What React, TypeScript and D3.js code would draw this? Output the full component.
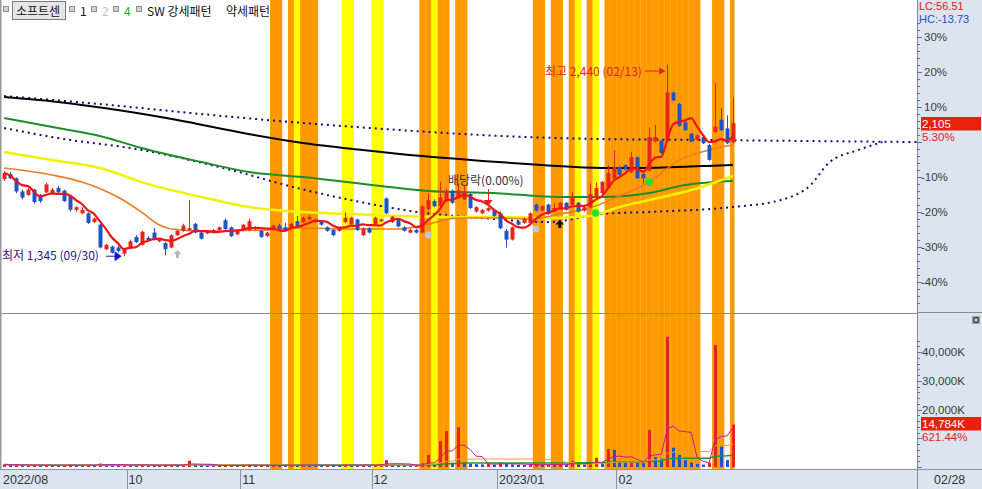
import React from "react";
import * as d3 from "d3";

const BASE = 1999;

const opens = [1785,1815,1790,1715,1695,1725,1695,1710,1700,1735,1720,1690,1610,1590,1590,1540,1525,1385,1400,1395,1360,1395,1455,1410,1450,1480,1430,1420,1395,1465,1490,1495,1530,1480,1475,1480,1495,1550,1510,1470,1495,1495,1500,1490,1460,1495,1520,1510,1505,1545,1540,1555,1540,1545,1510,1495,1490,1540,1525,1555,1465,1505,1525,1545,1675,1540,1555,1510,1480,1495,1480,1615,1660,1630,1660,1720,1680,1670,1700,1600,1590,1605,1610,1590,1490,1440,1545,1535,1535,1640,1605,1640,1600,1620,1650,1640,1650,1605,1625,1680,1705,1735,1790,1855,1865,1825,1910,1815,1835,2000,2005,2010,2280,2215,2110,2045,2010,2025,1980,2055,2125,2075,1995];
const highs = [1830,1825,1795,1725,1735,1730,1700,1765,1735,1745,1725,1695,1630,1625,1595,1565,1530,1415,1405,1405,1390,1440,1465,1490,1460,1505,1445,1425,1470,1495,1530,1665,1535,1485,1495,1500,1515,1560,1515,1500,1530,1560,1515,1495,1485,1525,1530,1535,1535,1575,1570,1580,1560,1550,1515,1500,1510,1595,1570,1560,1510,1510,1570,1560,1680,1575,1560,1515,1500,1500,1640,1700,1670,1770,1730,1725,1760,1750,1705,1630,1615,1625,1615,1600,1500,1515,1550,1565,1595,1645,1635,1645,1650,1655,1655,1710,1655,1630,1760,1765,1775,1865,1950,1860,1870,1940,1915,1820,2080,2095,2010,2440,2285,2220,2115,2050,2040,2030,1985,2335,2190,2150,2255];
const lows = [1775,1785,1705,1670,1690,1645,1650,1705,1695,1705,1655,1600,1600,1585,1530,1535,1390,1380,1360,1365,1345,1390,1420,1405,1430,1435,1425,1350,1390,1460,1485,1490,1475,1440,1470,1475,1490,1495,1455,1465,1490,1490,1495,1450,1455,1490,1495,1490,1500,1510,1535,1550,1535,1520,1485,1460,1485,1535,1520,1490,1460,1475,1520,1540,1585,1535,1510,1485,1475,1475,1475,1605,1625,1625,1655,1645,1675,1665,1615,1595,1585,1600,1570,1500,1395,1435,1520,1530,1530,1600,1600,1580,1595,1615,1605,1635,1595,1600,1620,1675,1700,1730,1785,1805,1835,1820,1785,1760,1830,1995,1930,2000,2230,2085,2060,1995,2005,1985,1890,2050,2060,1985,1990];
const closes = [1820,1790,1715,1680,1725,1655,1660,1755,1725,1710,1660,1610,1625,1610,1535,1560,1395,1410,1365,1375,1385,1430,1425,1485,1435,1440,1440,1385,1465,1490,1520,1505,1480,1445,1490,1495,1510,1500,1460,1495,1525,1545,1510,1455,1480,1520,1500,1495,1530,1515,1565,1570,1555,1525,1490,1465,1505,1565,1565,1495,1505,1480,1565,1555,1590,1570,1515,1490,1495,1480,1630,1665,1630,1680,1720,1650,1720,1715,1620,1625,1610,1620,1575,1505,1440,1510,1525,1560,1590,1605,1630,1585,1620,1650,1610,1680,1600,1625,1700,1735,1770,1820,1855,1810,1840,1910,1790,1790,2025,2025,1935,2280,2235,2090,2065,2000,2035,1990,1895,2085,2065,1990,2105];
const volumes = [900,700,800,600,650,700,550,700,600,500,650,800,600,550,700,650,1200,800,700,650,900,700,600,900,500,600,450,800,900,600,700,2200,800,600,500,450,500,600,700,500,550,700,500,600,450,800,600,550,700,500,800,700,600,500,600,550,500,900,700,600,650,550,800,1000,2400,900,700,600,500,550,1300,4200,700,9000,12500,1500,13800,1300,1200,1000,900,1100,800,1500,1200,900,800,700,750,1000,800,900,700,800,750,2100,1200,900,1100,3200,1500,6300,5900,2000,1500,2100,1600,1300,12900,3400,3000,45300,6700,4200,2400,1500,1100,800,1500,42400,7100,2400,14784];

const monthLabels = ["2022/08", "10", "11", "12", "2023/01", "02"];
const monthStart = [0, 21, 40, 62, 83, 103];

const orangeBands = [45,46,48,50,51,52,70,71,73,74,76,77,89,90,92,93,95,98,101,102,103,104,105,106,107,108,109,110,111,112,113,114,115,116,119,120,122];
const yellowBands = [49,57,58,62,63,72,96,99];

// longer moving averages (candle index, price)
const ma20Idx = [0,8,13,19,23,26,28,33,43,50,58,66,71,76,83,88,93,98,103,108,113,118,122];
const ma20Val = [1849,1809,1769,1683,1597,1523,1500,1488,1494,1506,1500,1500,1529,1563,1563,1557,1586,1620,1689,1769,1894,1952,1980];
const ma60Idx = [0,8,16,24,33,41,50,58,66,75,83,91,98,103,108,115,122];
const ma60Val = [1940,1895,1849,1758,1683,1626,1597,1586,1574,1569,1569,1563,1574,1626,1666,1723,1803];
const ma120Idx = [0,9,16,23,33,41,50,63,71,82,93,100,108,114,122];
const ma120Val = [2134,2077,2032,1963,1883,1826,1797,1746,1718,1706,1683,1683,1706,1752,1775];
const ma240Idx = [0,9,19,29,40,50,60,70,80,90,100,106,117,122];
const ma240Val = [2254,2226,2180,2123,2049,1992,1952,1917,1889,1866,1849,1849,1860,1866];
const upperDotIdx = [0,16,33,50,66,83,100,117,134,153];
const upperDotVal = [2260,2214,2157,2106,2066,2032,2014,2009,2003,1997];
const lowerDotIdx = [0,9,23,38,49,58,69,80,91,100,108,122,130,135,138,143,147];
const lowerDotVal = [2077,2020,1952,1837,1735,1666,1598,1563,1540,1586,1598,1626,1666,1752,1877,1952,1997];

const pctTicks = [30, 20, 10, -10, -20, -30, -40];
const volTicks = [40000, 30000, 20000];

const FONT = "'Noto Sans CJK KR', 'Noto Sans', sans-serif";
const NUMFONT = "'Liberation Sans', Arial, sans-serif";
const RED = "#E8251C";
const BLUE = "#1D55C6";

function sma(arr: number[], n: number) {
  return arr.map((_, i) => d3.mean(arr.slice(Math.max(0, i - n + 1), i + 1)) as number);
}

export default function App() {
  const W = 982, H = 489;
  const step = 5.974, x0 = 1.17;
  const axisX = 917;
  const dataRight = 734.5;
  const x = d3.scaleLinear().domain([0, 123]).range([x0, x0 + 123 * step]);
  const cx = (i: number) => x(i + 0.5);
  const pctY = d3.scaleLinear().domain([-40, 30]).range([281.7, 36.7]);
  const py = (p: number) => pctY((p / BASE - 1) * 100);
  const vy = d3.scaleLinear().domain([0, 40000]).range([467, 352]);

  const ma5 = sma(closes, 5);
  const vma5 = sma(volumes, 5);
  const vma20 = sma(volumes, 20);
  const vma60 = sma(volumes, 60);

  const seriesLine = d3.line<number>().x((_, i) => cx(i)).y((d) => py(d)).curve(d3.curveMonotoneX);
  const volLine = d3.line<number>().x((_, i) => cx(i)).y((d) => vy(d)).curve(d3.curveLinear);
  const readLine = (idx: number[], val: number[]) =>
    d3.line<[number, number]>().x((d) => cx(d[0])).y((d) => py(d[1])).curve(d3.curveMonotoneX)(idx.map((v, k) => [v, val[k]] as [number, number])) || "";

  const pctMinor = d3.range(-46, 36, 2);
  const volMinor = d3.range(0, 46000, 2000);

  const last = closes[closes.length - 1];
  const lastPct = ((last / BASE - 1) * 100).toFixed(2);

  const lowIdx = lows.indexOf(d3.min(lows) as number);
  const highIdx = highs.indexOf(d3.max(highs) as number);

  return (
    <svg width={W} height={H} viewBox={`0 0 ${W} ${H}`} style={{ position: "absolute", left: 0, top: 0, display: "block", background: "#fff" }} fontFamily={FONT}>
      <defs>
        <clipPath id="mainClip"><rect x={0} y={0} width={axisX} height={312} /></clipPath>
        <clipPath id="volClip"><rect x={0} y={314} width={axisX} height={156} /></clipPath>
      </defs>
      <rect x={0} y={0} width={W} height={H} fill="#fff" />
      {/* pattern bands */}
      {orangeBands.map((i) => (
        <rect key={"ob" + i} x={x(i)} y={0} width={Math.min(step + 0.3, dataRight - x(i))} height={469} fill="#FF9900" />
      ))}
      {yellowBands.map((i) => (
        <rect key={"yb" + i} x={x(i)} y={0} width={step + 0.3} height={469} fill="#FFFF00" />
      ))}

      {/* main panel */}
      <g clipPath="url(#mainClip)">
        <path d={readLine(upperDotIdx, upperDotVal)} fill="none" stroke="#10107A" strokeWidth={2} strokeDasharray="2 4" />
        <path d={readLine(lowerDotIdx, lowerDotVal)} fill="none" stroke="#10107A" strokeWidth={2} strokeDasharray="2 4" />
        <path d={readLine(ma240Idx, ma240Val)} fill="none" stroke="#000" strokeWidth={2} />
        <path d={readLine(ma120Idx, ma120Val)} fill="none" stroke="#1E8C2A" strokeWidth={2} />
        <path d={readLine(ma60Idx, ma60Val)} fill="none" stroke="#F2F200" strokeWidth={2.5} />
        <path d={readLine(ma20Idx, ma20Val)} fill="none" stroke="#EE7A22" strokeWidth={1.6} />
        {closes.map((c, i) => {
          const o = opens[i];
          const up = c >= o;
          const col = up ? RED : BLUE;
          const xc = Math.round(cx(i)) + 0.5;
          const top = py(Math.max(o, c));
          const bot = py(Math.min(o, c));
          return (
            <g key={"c" + i}>
              <line x1={xc} x2={xc} y1={py(highs[i])} y2={py(lows[i])} stroke={col} strokeWidth={1} />
              <rect x={xc - 2} y={top} width={4} height={Math.max(1, bot - top)} fill={col} />
            </g>
          );
        })}
        <path d={seriesLine(ma5) || ""} fill="none" stroke="#F01414" strokeWidth={2.2} />
      </g>

      {/* markers */}
      <g>
        <text x={2} y={260} fontSize={12} fill="#1A1A7A">{`최저 ${d3.format(",")(lows[lowIdx])} (09/30)`}</text>
        <line x1={106} x2={cx(lowIdx) - 8} y1={py(lows[lowIdx])} y2={py(lows[lowIdx])} stroke="#1A1A9A" strokeWidth={1} />
        <path d={`M${cx(lowIdx) - 9},${py(lows[lowIdx]) - 5} L${cx(lowIdx) - 2},${py(lows[lowIdx])} L${cx(lowIdx) - 9},${py(lows[lowIdx]) + 5} Z`} fill="#1010E0" />
        <text x={545} y={76} fontSize={12} fill="#E02020">{`최고 ${d3.format(",")(highs[highIdx])} (02/13)`}</text>
        <line x1={645} x2={cx(highIdx) - 3} y1={71} y2={71} stroke="#E02020" strokeWidth={1} />
        <path d={`M${cx(highIdx) - 8},${67.5} L${cx(highIdx) - 2},${71} L${cx(highIdx) - 8},${74.5} Z`} fill="#E02020" />
        <text x={448} y={185} fontSize={12} fill="#333">배당락(0.00%)</text>
        <line x1={Math.round(cx(81)) + 0.5} x2={Math.round(cx(81)) + 0.5} y1={189} y2={201} stroke="#E02020" strokeWidth={1} />
        <path d={`M${cx(81) - 4.5},200 L${cx(81) + 4.5},200 L${cx(81)},206 Z`} fill="#E82020" />
        <path d={`M${cx(29)},250 L${cx(29) + 4},254 L${cx(29) + 1.5},254 L${cx(29) + 1.5},258 L${cx(29) - 1.5},258 L${cx(29) - 1.5},254 L${cx(29) - 4},254 Z`} fill="#B4B4B8" />
        <circle cx={cx(71)} cy={235} r={3.5} fill="#C4C6D2" />
        <circle cx={cx(89)} cy={229} r={3.5} fill="#C4C6D2" />
        <path d={`M${cx(93)},220 L${cx(93) + 4.5},224.5 L${cx(93) + 1.5},224.5 L${cx(93) + 1.5},228 L${cx(93) - 1.5},228 L${cx(93) - 1.5},224.5 L${cx(93) - 4.5},224.5 Z`} fill="#111" />
        <circle cx={cx(99)} cy={213} r={3.8} fill="#22E02E" />
        <circle cx={cx(108)} cy={182} r={3.8} fill="#22E02E" />
      </g>

      {/* volume panel */}
      <g clipPath="url(#volClip)">
        {volumes.map((v, i) => {
          const up = i === 0 || v >= volumes[i - 1];
          const xc = Math.round(cx(i));
          return <rect key={"v" + i} x={xc - 1} y={vy(v)} width={3} height={Math.max(1, vy(0) - vy(v))} fill={up ? RED : BLUE} />;
        })}
        <path d={volLine(vma60) || ""} fill="none" stroke="#1F9A2A" strokeWidth={1.5} />
        <path d={volLine(vma20) || ""} fill="none" stroke="#E8A040" strokeWidth={1} />
        <path d={volLine(vma5) || ""} fill="none" stroke="#C8189A" strokeWidth={1} />
      </g>

      {/* frame lines */}
      <line x1={0} x2={W} y1={313.5} y2={313.5} stroke="#8A8A8A" strokeWidth={1} />
      <line x1={0.5} x2={0.5} y1={0} y2={H} stroke="#9A9A9A" strokeWidth={2} />

      {/* right axis panel */}
      <rect x={axisX} y={0} width={W - axisX} height={H} fill="#DCE4F0" />
      <line x1={axisX + 0.5} x2={axisX + 0.5} y1={0} y2={H} stroke="#7F8CA0" strokeWidth={1} />
      <line x1={axisX} x2={W} y1={312.5} y2={312.5} stroke="#8A8A8A" strokeWidth={1} />
      <g fontFamily={NUMFONT}>
        {pctMinor.map((t) => (
          <line key={"pm" + t} x1={axisX} x2={axisX + (t % 10 === 0 ? 5 : 3)} y1={Math.round(pctY(t)) + 0.5} y2={Math.round(pctY(t)) + 0.5} stroke="#6A7488" strokeWidth={1} />
        ))}
        {pctTicks.map((t) => (
          <text key={"pt" + t} x={t < 0 ? 921 : 924} y={pctY(t) + 4} fontSize={11.5} fill="#3A3A3A">{`${t}%`}</text>
        ))}
        {volMinor.map((t) => (
          <line key={"vm" + t} x1={axisX} x2={axisX + (t % 10000 === 0 ? 5 : 3)} y1={Math.round(vy(t)) + 0.5} y2={Math.round(vy(t)) + 0.5} stroke="#6A7488" strokeWidth={1} />
        ))}
        {volTicks.map((t) => (
          <text key={"vt" + t} x={922} y={vy(t) + 4} fontSize={11.5} fill="#3A3A3A">{`${d3.format(",")(t)}K`}</text>
        ))}
        <text x={919} y={10} fontSize={11} fill="#E02020">LC:56.51</text>
        <text x={919} y={22.5} fontSize={11} fill="#2050C0">HC:-13.73</text>
        <rect x={921} y={117} width={60} height={13.5} fill="#E8200C" />
        <text x={922} y={128} fontSize={11.5} fill="#fff">{d3.format(",")(last)}</text>
        <text x={922} y={140.5} fontSize={11.5} fill="#E02020">{`${lastPct}%`}</text>
        <rect x={921} y={417} width={60} height={13.5} fill="#E8200C" />
        <text x={922} y={428} fontSize={11.5} fill="#fff">{`${d3.format(",")(volumes[volumes.length - 1])}K`}</text>
        <text x={922} y={440.5} fontSize={11.5} fill="#E02020">621.44%</text>
      </g>
      <rect x={972.5} y={316.5} width={7} height={7} fill="#555" />
      <path d="M974.5,318.5 L977.5,321.5 M977.5,318.5 L974.5,321.5" stroke="#fff" strokeWidth={1} />

      {/* date axis */}
      <rect x={0} y={469.5} width={W} height={20} fill="#DCE4F0" />
      <line x1={0} x2={W} y1={469.5} y2={469.5} stroke="#8A94A6" strokeWidth={1} />
      <line x1={axisX + 0.5} x2={axisX + 0.5} y1={469} y2={H} stroke="#7F8CA0" strokeWidth={1} />
      <g fontFamily={NUMFONT}>
        {monthStart.map((m, k) => (
          <g key={"m" + k}>
            {k > 0 && <line x1={Math.round(x(m)) + 0.5} x2={Math.round(x(m)) + 0.5} y1={470} y2={H} stroke="#8A94A6" strokeWidth={1} />}
            <text x={k === 0 ? 3 : x(m) + 2} y={484} fontSize={12.5} fill="#333">{monthLabels[k]}</text>
          </g>
        ))}
        <text x={934} y={484} fontSize={12.5} fill="#333">02/28</text>
      </g>

      {/* legend */}
      <g fontSize={12}>
        <rect x={3.5} y={6.5} width={5} height={5} fill="#D0D0D0" stroke="#909090" />
        <rect x={12.5} y={1.5} width={53} height={18} fill="#E6E6E6" stroke="#7A7A7A" />
        <text x={16} y={15.5} fill="#111">소프트센</text>
        <rect x={69.5} y={6.5} width={5} height={5} fill="#D0D0D0" stroke="#909090" />
        <text x={80} y={15.5} fill="#111">1</text>
        <rect x={91.5} y={6.5} width={5} height={5} fill="#D0D0D0" stroke="#909090" />
        <text x={102} y={15.5} fill="#C0C0C0">2</text>
        <rect x={113.5} y={6.5} width={5} height={5} fill="#D0D0D0" stroke="#909090" />
        <text x={124} y={15.5} fill="#2AAA2A">4</text>
        <rect x={136.5} y={6.5} width={5} height={5} fill="#D0D0D0" stroke="#909090" />
        <text x={147} y={15.5} fill="#111">SW 강세패턴</text>
        <text x={226} y={15.5} fill="#111">약세패턴</text>
      </g>
    </svg>
  );
}
